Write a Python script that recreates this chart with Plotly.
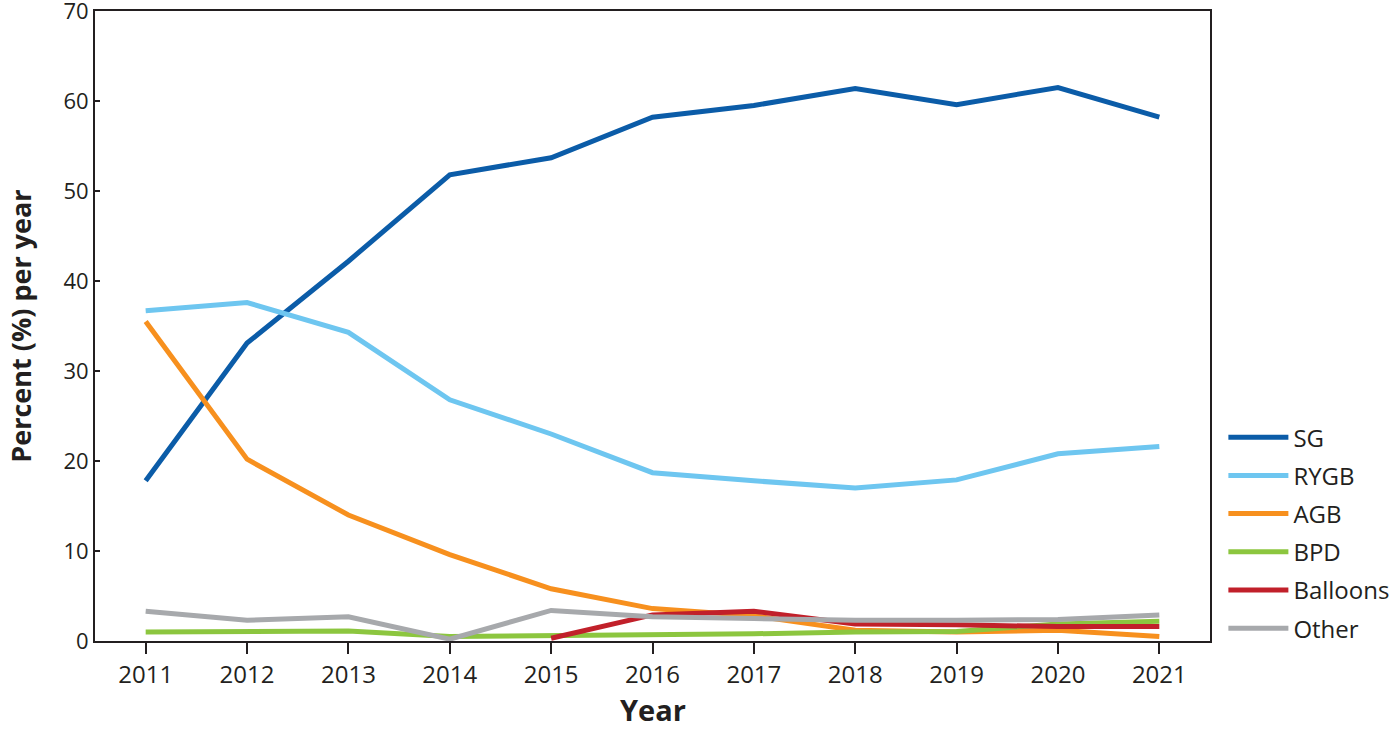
import plotly.graph_objects as go

years = [2011, 2012, 2013, 2014, 2015, 2016, 2017, 2018, 2019, 2020, 2021]
sg = [17.8, 33.1, 42.2, 51.8, 53.7, 58.2, 59.5, 61.4, 59.6, 61.5, 58.2]
rygb = [36.7, 37.6, 34.3, 26.8, 23.0, 18.7, 17.8, 17.0, 17.9, 20.8, 21.6]
agb = [35.5, 20.2, 14.0, 9.6, 5.8, 3.6, 2.8, 1.2, 1.0, 1.2, 0.5]
bpd = [1.0, 1.1, 1.1, 0.5, 0.6, 0.6, 0.8, 1.0, 1.05, 1.9, 2.2]
balloon_years = [2015, 2016, 2017, 2018, 2019, 2020, 2021]
balloons = [0.3, 2.9, 3.3, 1.9, 1.8, 1.6, 1.6]
other = [3.3, 2.3, 2.7, 0.2, 3.4, 2.7, 2.5, 2.3, 2.3, 2.4, 2.9]
y_ticks = [0, 10, 20, 30, 40, 50, 60, 70]
x_title = "Year"
y_title = "Percent (%) per year"

series = [
    ("SG", years, sg, "#0b5ca8"),
    ("RYGB", years, rygb, "#6ec6f0"),
    ("AGB", years, agb, "#f7901e"),
    ("BPD", years, bpd, "#8cc63f"),
    ("Balloons", balloon_years, balloons, "#c1202a"),
    ("Other", years, other, "#a7a9ac"),
]

fig = go.Figure()
for name, xs, ys, col in series:
    fig.add_trace(go.Scatter(
        x=xs, y=ys, name=name, mode="lines", legendgroup=name,
        line=dict(color=col, width=5),
    ))

font_color = "#231f20"
fig.update_layout(
    width=1393, height=730,
    margin=dict(l=95, r=183, t=11, b=89, autoexpand=False),
    paper_bgcolor="white", plot_bgcolor="white",
    font=dict(family="Open Sans", size=24, color=font_color),
    showlegend=True,
    legend=dict(
        x=1.012, xanchor="left", y=-0.016, yanchor="bottom",
        font=dict(size=24, color=font_color),
        tracegroupgap=4, itemwidth=60,
        bgcolor="rgba(0,0,0,0)",
    ),
    xaxis=dict(
        range=[2010.5, 2021.5], tickmode="array", tickvals=years,
        ticktext=[str(y) for y in years], automargin=False,
        showline=True, linecolor=font_color, linewidth=2, mirror=True,
        ticks="outside", ticklen=11, tickwidth=2, tickcolor=font_color,
        showgrid=False, zeroline=False, ticklabeloverflow="allow",
    ),
    yaxis=dict(
        range=[0, 70.001], tickmode="array", tickvals=y_ticks,
        ticktext=[str(v) for v in y_ticks], automargin=False,
        tickfont=dict(size=22),
        showline=True, linecolor=font_color, linewidth=2, mirror=True,
        ticks="inside", ticklen=5, tickwidth=2, tickcolor=font_color,
        showgrid=False, zeroline=False, ticklabeloverflow="allow",
    ),
    annotations=[
        dict(text=f"<b>{x_title}</b>", xref="paper", yref="paper",
             x=0.5, y=-0.109, xanchor="center", yanchor="middle",
             showarrow=False, font=dict(size=29, color=font_color)),
        dict(text=f"<b>{y_title}</b>", xref="paper", yref="paper",
             x=-0.0675, y=0.5, xanchor="center", yanchor="middle",
             textangle=-90, showarrow=False, font=dict(size=27, color=font_color)),
    ],
)

fig.write_html(
    "out.html",
    config={"displayModeBar": False},
    post_script="document.body.style.margin='0';document.body.style.overflow='hidden';",
)
